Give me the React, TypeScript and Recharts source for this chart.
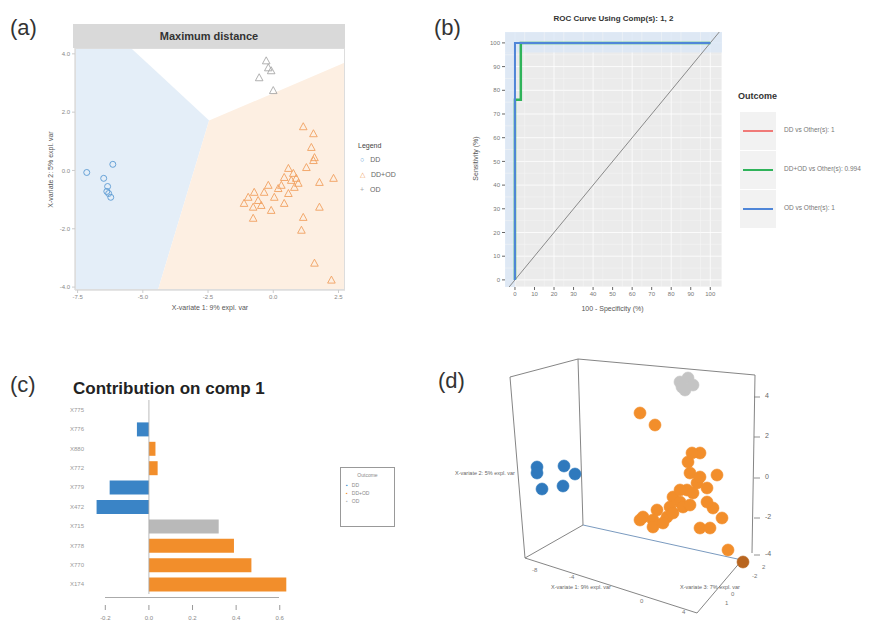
import React from "react";
import {
  ComposedChart, ScatterChart, BarChart, Bar, Area, Line, Scatter, XAxis, YAxis,
  CartesianGrid, ReferenceLine, ReferenceArea, Cell,
} from "recharts";

const FONT = "'Liberation Sans', Arial, sans-serif";

// ---- (a) sample plot, maximum distance regions
const A_X_TICKS = [-7.5, -5, -2.5, 0, 2.5];
const A_Y_TICKS = [-4, -2, 0, 2, 4];
const A_DD = [
  { x: -7.15, y: -0.07 }, { x: -6.5, y: -0.27 }, { x: -6.15, y: 0.21 }, { x: -6.38, y: -0.72 },
  { x: -6.31, y: -0.79 }, { x: -6.23, y: -0.92 }, { x: -6.35, y: -0.55 },
];
const A_DDOD = [
  { x: 1.15, y: 1.5 }, { x: 1.54, y: 1.26 }, { x: 1.46, y: 0.79 }, { x: 1.58, y: 0.44 }, { x: 1.54, y: 0.34 },
  { x: 1.27, y: 0.1 }, { x: 0.58, y: 0.07 }, { x: 0.77, y: -0.1 }, { x: 0.42, y: -0.24 }, { x: 0.69, y: -0.34 },
  { x: 0.96, y: -0.44 }, { x: 1.77, y: -0.41 }, { x: 2.31, y: -0.27 }, { x: -0.19, y: -0.51 }, { x: 0.19, y: -0.62 },
  { x: -0.73, y: -0.75 }, { x: -0.96, y: -0.92 }, { x: -0.58, y: -1.03 }, { x: -1.12, y: -1.13 }, { x: -0.77, y: -1.26 },
  { x: 0.42, y: -1.13 }, { x: -0.08, y: -1.37 }, { x: 1.77, y: -1.26 }, { x: 1.15, y: -1.61 }, { x: -0.77, y: -1.64 },
  { x: 1.08, y: -2.05 }, { x: 1.58, y: -3.18 }, { x: 2.23, y: -3.76 }, { x: -0.35, y: -0.75 }, { x: 0.81, y: -0.58 },
  { x: 0.04, y: -0.92 }, { x: 0.58, y: -0.79 }, { x: 0.31, y: -0.51 }, { x: 0.88, y: -0.27 }, { x: -0.46, y: -1.2 },
];
const A_OD = [
  { x: -0.27, y: 3.76 }, { x: -0.19, y: 3.52 }, { x: -0.08, y: 3.42 }, { x: -0.54, y: 3.18 }, { x: 0.0, y: 2.74 },
];
// region boundaries as [low, high] ranges over x
const A_BLUE_REGION = [
  { x: -7.6, r: [-4.1, 4.2] }, { x: -5.46, r: [-4.1, 4.2] }, { x: -4.42, r: [-4.1, 3.34] }, { x: -2.46, r: [1.71, 1.71] },
];
const A_ORANGE_REGION = [
  { x: -4.42, r: [-4.1, -4.1] }, { x: -2.46, r: [-4.1, 1.71] }, { x: 2.75, r: [-4.1, 3.7] },
];

// ---- (b) ROC
const B_TICKS = [0, 10, 20, 30, 40, 50, 60, 70, 80, 90, 100];
const B_MINOR = [5, 15, 25, 35, 45, 55, 65, 75, 85, 95];
const B_DIAG = [{ x: -3, y: -3 }, { x: 104.6, y: 104.6 }];
const B_RED = [{ x: 0, y: 0 }, { x: 0, y: 100 }, { x: 100, y: 100 }];
const B_GREEN = [{ x: 0, y: 0 }, { x: 0, y: 76 }, { x: 3, y: 76 }, { x: 3, y: 100 }, { x: 100, y: 100 }];
const B_BLUE = [{ x: 0, y: 0 }, { x: 0, y: 100 }, { x: 100, y: 100 }];
const B_LEGEND = ["DD vs Other(s): 1", "DD+OD vs Other(s): 0.994", "OD vs Other(s): 1"];
const B_COLORS = ["#f07a78", "#2fb35a", "#4f86d8"];

// ---- (c) loadings
const C_FEATURES = ["X775", "X776", "X880", "X772", "X779", "X472", "X715", "X778", "X770", "X174"];
const C_VALUES = [0, -0.055, 0.03, 0.04, -0.18, -0.24, 0.32, 0.39, 0.47, 0.63];
const C_GROUP = ["OD", "DD", "DDOD", "DDOD", "DD", "DD", "OD", "DDOD", "DDOD", "DDOD"];
const C_TICKS = [-0.2, 0, 0.2, 0.4, 0.6];

// ---- (d) 3D view, projected coordinates
const D_EDGES = [
  [[70, 248], [138, 266]], [[138, 266], [315, 250]], [[138, 266], [143, 100]], [[70, 248], [85, 67]],
  [[315, 250], [312, 72]], [[143, 100], [302, 65]], [[85, 67], [143, 100]], [[85, 67], [257, 12]],
  [[257, 12], [302, 65]],
];
const D_DD = [
  { u: 97, v: 158 }, { u: 124, v: 159 }, { u: 135, v: 151 }, { u: 102, v: 136 }, { u: 123, v: 139 }, { u: 97, v: 152 },
];
const D_OD = [
  { u: 240, v: 243 }, { u: 248, v: 247 }, { u: 253, v: 240 }, { u: 245, v: 235 }, { u: 242, v: 238 },
];
const D_DDOD = [
  { u: 200, v: 212 }, { u: 215, v: 200 }, { u: 260, v: 172 }, { u: 248, v: 163 }, { u: 277, v: 150 },
  { u: 250, v: 152 }, { u: 257, v: 142 }, { u: 247, v: 135 }, { u: 267, v: 137 }, { u: 233, v: 128 },
  { u: 253, v: 132 }, { u: 240, v: 123 }, { u: 230, v: 118 }, { u: 217, v: 115 }, { u: 203, v: 108 },
  { u: 213, v: 105 }, { u: 227, v: 108 }, { u: 233, v: 112 }, { u: 243, v: 118 }, { u: 250, v: 120 },
  { u: 273, v: 117 }, { u: 282, v: 107 }, { u: 260, v: 97 }, { u: 270, v: 97 }, { u: 213, v: 98 },
  { u: 223, v: 102 }, { u: 200, v: 105 }, { u: 288, v: 75 }, { u: 267, v: 123 }, { u: 240, v: 135 },
  { u: 260, v: 148 }, { u: 252, v: 172 },
];
const D_DARK = [{ u: 303, v: 63 }];
const D_Z_TICKS = [
  { label: "4", v: 228 }, { label: "2", v: 188 }, { label: "0", v: 147 }, { label: "-2", v: 107 }, { label: "-4", v: 70 },
];

const BLUE = "#3a84c6";
const ORANGE = "#f28e2b";
const GRAY = "#b9b9b9";

const hollowCircle = (color: string) => (p: any) => (
  <circle cx={p.cx} cy={p.cy} r={3} fill="none" stroke={color} strokeWidth={0.9} />
);
const hollowTri = (color: string) => (p: any) => (
  <polygon
    points={`${p.cx},${p.cy - 4} ${p.cx - 3.8},${p.cy + 3} ${p.cx + 3.8},${p.cy + 3}`}
    fill="none" stroke={color} strokeWidth={0.9}
  />
);
const dot = (color: string) => (p: any) => (
  <circle cx={p.cx} cy={p.cy} r={6} fill={color} stroke={color} strokeOpacity={0.6} />
);

const abs = (left: number, top: number, extra: React.CSSProperties = {}): React.CSSProperties => ({
  position: "absolute", left, top, ...extra,
});

function PanelA() {
  return (
    <>
      <div style={abs(73, 24, { width: 272, height: 24, background: "#d9d9d9", fontWeight: "bold", fontSize: 11,
        textAlign: "center", lineHeight: "24px", color: "#333" })}>Maximum distance</div>
      <div style={abs(0, 0)}>
        <ComposedChart width={420} height={320} margin={{ top: 48, right: 75, bottom: 12, left: 55 }}>
          <XAxis type="number" dataKey="x" domain={[-7.6, 2.75]} ticks={A_X_TICKS} allowDataOverflow
            tick={{ fontSize: 6, fill: "#888" }} tickSize={3} stroke="#ccc" height={18}
            tickFormatter={(v) => v.toFixed(1)} />
          <YAxis type="number" dataKey="y" domain={[-4.1, 4.2]} ticks={A_Y_TICKS} allowDataOverflow
            tick={{ fontSize: 6, fill: "#888" }} tickSize={3} stroke="#ccc" width={20}
            tickFormatter={(v) => v.toFixed(1)} />
          <Area data={A_BLUE_REGION} dataKey="r" type="linear" stroke="none" fill="#e4eef8" fillOpacity={1}
            isAnimationActive={false} />
          <Area data={A_ORANGE_REGION} dataKey="r" type="linear" stroke="none" fill="#fdefe2" fillOpacity={1}
            isAnimationActive={false} />
          <Scatter data={A_DD} shape={hollowCircle("#5a9ad2")} isAnimationActive={false} />
          <Scatter data={A_DDOD} shape={hollowTri("#f0a060")} isAnimationActive={false} />
          <Scatter data={A_OD} shape={hollowTri("#a8a8a8")} isAnimationActive={false} />
        </ComposedChart>
      </div>
      <div style={abs(75, 48, { width: 270, height: 242, border: "1px solid #ddd", boxSizing: "border-box" })} />
      <div style={abs(150, 304, { width: 120, textAlign: "center", fontSize: 7, color: "#555" })}>
        X-variate 1: 9% expl. var
      </div>
      <div style={abs(-10, 166, { width: 120, textAlign: "center", fontSize: 7, color: "#555",
        transform: "rotate(-90deg)" })}>X-variate 2: 5% expl. var</div>
      <div style={abs(358, 142, { fontSize: 7, color: "#444" })}>Legend</div>
      {[["○", "DD", "#5a9ad2"], ["△", "DD+OD", "#f0a060"], ["+", "OD", "#aaa"]].map(([s, t, c], i) => (
        <div key={t} style={abs(360, 156 + i * 15, { fontSize: 7, color: "#666", whiteSpace: "nowrap" })}>
          <span style={{ color: c, marginRight: 6 }}>{s}</span>{t}
        </div>
      ))}
    </>
  );
}

function PanelB() {
  return (
    <>
      <div style={abs(505, 14, { width: 217, textAlign: "center", fontSize: 8, fontWeight: "bold", color: "#333" })}>
        ROC Curve Using Comp(s): 1, 2
      </div>
      <div style={abs(440, 0)}>
        <ComposedChart width={300} height={320} margin={{ top: 32, right: 18, bottom: 15, left: 45 }}>
          <CartesianGrid fill="#ebebeb" stroke="#ffffff" strokeWidth={0.8} />
          {B_MINOR.map((m) => (
            <ReferenceLine key={"vx" + m} x={m} stroke="#f7f7f7" strokeWidth={0.5} />
          ))}
          {B_MINOR.map((m) => (
            <ReferenceLine key={"hy" + m} y={m} stroke="#f7f7f7" strokeWidth={0.5} />
          ))}
          <ReferenceArea x1={-5.1} x2={106} y1={96} y2={104.6} fill="#dbe7f6" fillOpacity={0.8} stroke="none" />
          <ReferenceArea x1={-5.1} x2={0} y1={-3} y2={96} fill="#dbe7f6" fillOpacity={0.8} stroke="none" />
          <XAxis type="number" dataKey="x" domain={[-5.1, 106]} ticks={B_TICKS} allowDataOverflow
            axisLine={false} tick={{ fontSize: 6, fill: "#777" }} tickSize={3} stroke="#666" height={18} />
          <YAxis type="number" dataKey="y" domain={[-3, 104.6]} ticks={B_TICKS} allowDataOverflow
            axisLine={false} tick={{ fontSize: 6, fill: "#777" }} tickSize={3} stroke="#666" width={20} />
          <Line data={B_DIAG} dataKey="y" type="linear" stroke="#8a8a8a" strokeWidth={1} dot={false}
            isAnimationActive={false} />
          <Line data={B_RED} dataKey="y" type="linear" stroke={B_COLORS[0]} strokeWidth={1.5} dot={false}
            isAnimationActive={false} />
          <Line data={B_GREEN} dataKey="y" type="linear" stroke={B_COLORS[1]} strokeWidth={2.5} dot={false}
            isAnimationActive={false} />
          <Line data={B_BLUE} dataKey="y" type="linear" stroke={B_COLORS[2]} strokeWidth={2} dot={false}
            isAnimationActive={false} />
        </ComposedChart>
      </div>
      <div style={abs(555, 305, { width: 115, textAlign: "center", fontSize: 7, color: "#555" })}>
        100 - Specificity (%)
      </div>
      <div style={abs(420, 155, { width: 110, textAlign: "center", fontSize: 7, color: "#555",
        transform: "rotate(-90deg)" })}>Sensitivity (%)</div>
      <div style={abs(738, 91, { fontSize: 9, fontWeight: "bold", color: "#333" })}>Outcome</div>
      {B_LEGEND.map((t, i) => (
        <React.Fragment key={t}>
          <div style={abs(740, 112 + i * 39, { width: 36, height: 38, background: "#f2f2f2" })}>
            <div style={{ position: "absolute", left: 3, right: 3, top: 18, height: 2, background: B_COLORS[i] }} />
          </div>
          <div style={abs(784, 126 + i * 39, { fontSize: 6.5, color: "#777", whiteSpace: "nowrap" })}>{t}</div>
        </React.Fragment>
      ))}
    </>
  );
}

function PanelC() {
  const cData = C_FEATURES.map((name, i) => ({ name, value: C_VALUES[i], group: C_GROUP[i] }));
  const colorOf = (g: string) => (g === "DD" ? BLUE : g === "OD" ? GRAY : ORANGE);
  const xTick = (p: any) => (
    <g>
      <line x1={p.x} x2={p.x} y1={p.y + 3} y2={p.y + 8} stroke="#999" />
      <text x={p.x} y={p.y + 18} fontSize={6} textAnchor="middle" fill="#888">
        {Number(p.payload.value).toFixed(1)}
      </text>
    </g>
  );
  return (
    <>
      <div style={abs(73, 379, { fontSize: 17, fontWeight: "bold", color: "#222" })}>Contribution on comp 1</div>
      <div style={abs(0, 380)}>
        <BarChart layout="vertical" width={320} height={245} data={cData}
          margin={{ top: 20, right: 30, bottom: 6, left: 52 }}>
          <XAxis type="number" domain={[-0.261, 0.647]} ticks={C_TICKS} allowDataOverflow axisLine={false}
            tickLine={false} tick={xTick} height={25} />
          <YAxis type="category" dataKey="name" width={40} axisLine={false} tickLine={false}
            tick={{ fontSize: 6, fill: "#999" }} />
          <ReferenceLine x={0} stroke="#aaa" strokeWidth={0.8} />
          <Bar dataKey="value" barSize={14} isAnimationActive={false}>
            {cData.map((d) => (
              <Cell key={d.name} fill={colorOf(d.group)} />
            ))}
          </Bar>
        </BarChart>
      </div>
      <div style={abs(105, 597, { width: 174, height: 1, background: "#aaa" })} />
      <div style={abs(340, 467, { width: 55, height: 60, border: "1px solid #999", boxSizing: "border-box",
        fontSize: 5, color: "#888", padding: "4px 5px" })}>
        <div style={{ textAlign: "center", marginBottom: 4 }}>Outcome</div>
        {[["DD", BLUE], ["DD+OD", ORANGE], ["OD", GRAY]].map(([t, c]) => (
          <div key={t} style={{ marginBottom: 2, whiteSpace: "nowrap" }}>
            <span style={{ color: c, marginRight: 4 }}>▪</span>{t}
          </div>
        ))}
      </div>
    </>
  );
}

function PanelD() {
  return (
    <>
      <div style={abs(440, 320)}>
        <ScatterChart width={445} height={305} margin={{ top: 0, right: 0, bottom: 0, left: 0 }}>
          <XAxis type="number" dataKey="u" domain={[0, 445]} hide />
          <YAxis type="number" dataKey="v" domain={[0, 305]} hide />
          {D_EDGES.map((e, i) => (
            <ReferenceLine key={i} ifOverflow="visible" stroke={i === 5 ? "#6b8fb8" : "#777"} strokeWidth={0.9}
              segment={[{ x: e[0][0], y: e[0][1] }, { x: e[1][0], y: e[1][1] }]} />
          ))}
          {D_Z_TICKS.map((t) => (
            <ReferenceLine key={t.label} ifOverflow="visible" stroke="#777" strokeWidth={0.8}
              segment={[{ x: 314, y: t.v }, { x: 320, y: t.v }]} />
          ))}
          <Scatter data={D_OD} shape={dot("#c4c4c4")} isAnimationActive={false} />
          <Scatter data={D_DD} shape={dot("#2f79bd")} isAnimationActive={false} />
          <Scatter data={D_DDOD} shape={dot(ORANGE)} isAnimationActive={false} />
          <Scatter data={D_DARK} shape={dot("#b8651f")} isAnimationActive={false} />
        </ScatterChart>
      </div>
      {D_Z_TICKS.map((t) => (
        <div key={t.label} style={abs(765, 625 - t.v - 5, { fontSize: 7, color: "#666" })}>{t.label}</div>
      ))}
      <div style={abs(455, 470, { fontSize: 5.5, color: "#666", whiteSpace: "nowrap" })}>X-variate 2: 5% expl. var</div>
      <div style={abs(551, 584, { fontSize: 5.5, color: "#666", whiteSpace: "nowrap" })}>X-variate 1: 9% expl. var</div>
      <div style={abs(680, 584, { fontSize: 5.5, color: "#666", whiteSpace: "nowrap" })}>X-variate 3: 7% expl. var</div>
      {[["-8", 532, 567], ["-4", 569, 574], ["0", 640, 598], ["4", 682, 609], ["1", 725, 600], ["0", 731, 591],
        ["-2", 752, 573], ["2", 762, 564]].map(([t, x, y], i) => (
        <div key={i} style={abs(x as number, y as number, { fontSize: 6, color: "#777" })}>{t}</div>
      ))}
    </>
  );
}

export default function App() {
  return (
    <div style={{ position: "absolute", left: 0, top: 0, width: 885, height: 625, background: "#fff",
      fontFamily: FONT, overflow: "hidden" }}>
      <div style={abs(10, 15, { fontSize: 22, color: "#333" })}>(a)</div>
      <div style={abs(434, 15, { fontSize: 22, color: "#333" })}>(b)</div>
      <div style={abs(10, 372, { fontSize: 22, color: "#333" })}>(c)</div>
      <div style={abs(438, 368, { fontSize: 22, color: "#333" })}>(d)</div>
      <PanelA />
      <PanelB />
      <PanelC />
      <PanelD />
    </div>
  );
}
